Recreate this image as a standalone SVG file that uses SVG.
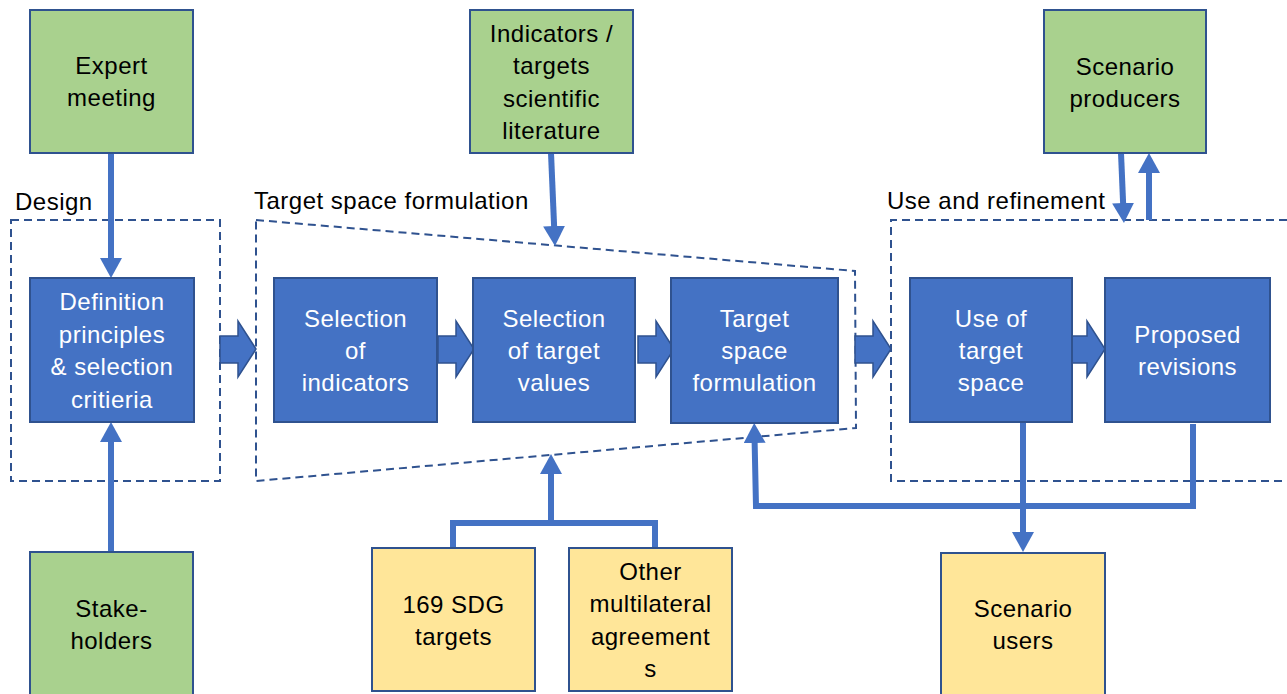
<svg xmlns="http://www.w3.org/2000/svg" width="1287" height="694" viewBox="0 0 1287 694">
<defs>
<style>
.t{font-family:"Liberation Sans",Arial,sans-serif;font-size:24px;letter-spacing:0.5px;text-anchor:middle;fill:#000}
.w{fill:#fff}
.lbl{font-family:"Liberation Sans",Arial,sans-serif;font-size:24px;letter-spacing:0.5px;fill:#000}
.g{fill:#A9D18E;stroke:#2F528F;stroke-width:2}
.b{fill:#4472C4;stroke:#2F528F;stroke-width:2}
.y{fill:#FFE699;stroke:#2F528F;stroke-width:2}
.d{fill:none;stroke:#2F528F;stroke-width:2;stroke-dasharray:8 5}
.c{fill:none;stroke:#4472C4;stroke-width:6;stroke-linejoin:miter}
.ca{fill:none;stroke:#4472C4;stroke-width:6;marker-end:url(#ah)}
.blk{fill:#4472C4;stroke:#2F528F;stroke-width:1.5}
</style>
<marker id="ah" viewBox="0 0 20 22" refX="2" refY="11" markerWidth="20" markerHeight="22" markerUnits="userSpaceOnUse" orient="auto">
<path d="M0,0 L20,11 L0,22 z" fill="#4472C4"/>
</marker>
</defs>
<rect width="1287" height="694" fill="#fff"/>

<g id="groups">
<rect class="d" x="11" y="220" width="209" height="261"/>
<polygon class="d" points="256,220 855,271 856,428 256,481"/>
<path class="d" d="M1287,220 L891,220 L891,481 L1287,481"/>
<text class="lbl" x="15" y="210">Design</text>
<text class="lbl" x="254" y="209">Target space formulation</text>
<text class="lbl" x="887" y="209">Use and refinement</text>
</g>

<g id="connectors">
<path class="ca" d="M111,153 L111,260"/>
<path class="ca" d="M111,552 L111,440"/>
<path class="ca" d="M551,153 L554.2,228"/>
<path class="ca" d="M1121,153 L1123.2,205"/>
<path class="ca" d="M1149,220 L1149,171"/>
<path class="ca" d="M1023,422 L1023,534"/>
<path class="ca" d="M1193,424 L1193,506 L756,506 L754.6,441"/>
<path class="c" d="M453,548 L453,523 L655,523 L655,548"/>
<path class="ca" d="M551,526 L551,472"/>
<polygon class="blk" points="220,336 238,336 238,321 256,349 238,377 238,363 220,363"/>
<polygon class="blk" points="438,336 456,336 456,321 474,349 456,377 456,363 438,363"/>
<polygon class="blk" points="638,336 656,336 656,321 674,349 656,377 656,363 638,363"/>
<polygon class="blk" points="855,336 873,336 873,321 891,349 873,377 873,363 855,363"/>
<polygon class="blk" points="1069,336 1087,336 1087,321 1105,349 1087,377 1087,363 1069,363"/>
</g>

<g id="expert-meeting">
<rect class="g" x="30" y="10" width="163" height="143"/>
<text class="t" x="111.5" y="74">Expert</text>
<text class="t" x="111.5" y="106">meeting</text>
</g>
<g id="indicators-literature">
<rect class="g" x="470" y="10" width="163" height="143"/>
<text class="t" x="551.5" y="42">Indicators /</text>
<text class="t" x="551.5" y="74">targets</text>
<text class="t" x="551.5" y="107">scientific</text>
<text class="t" x="551.5" y="139">literature</text>
</g>
<g id="scenario-producers">
<rect class="g" x="1044" y="10" width="162" height="143"/>
<text class="t" x="1125" y="75">Scenario</text>
<text class="t" x="1125" y="107">producers</text>
</g>

<g id="definition">
<rect class="b" x="30" y="278" width="164" height="144"/>
<text class="t w" x="112" y="310">Definition</text>
<text class="t w" x="112" y="343">principles</text>
<text class="t w" x="112" y="375">&amp; selection</text>
<text class="t w" x="112" y="408">critieria</text>
</g>
<g id="selection-indicators">
<rect class="b" x="274" y="278" width="163" height="144"/>
<text class="t w" x="355.5" y="327">Selection</text>
<text class="t w" x="355.5" y="359">of</text>
<text class="t w" x="355.5" y="391">indicators</text>
</g>
<g id="selection-target-values">
<rect class="b" x="473" y="278" width="162" height="144"/>
<text class="t w" x="554" y="327">Selection</text>
<text class="t w" x="554" y="359">of target</text>
<text class="t w" x="554" y="391">values</text>
</g>
<g id="target-space-formulation">
<rect class="b" x="671" y="278" width="167" height="145"/>
<text class="t w" x="754.5" y="327">Target</text>
<text class="t w" x="754.5" y="359">space</text>
<text class="t w" x="754.5" y="391">formulation</text>
</g>
<g id="use-target-space">
<rect class="b" x="910" y="278" width="162" height="144"/>
<text class="t w" x="991" y="327">Use of</text>
<text class="t w" x="991" y="359">target</text>
<text class="t w" x="991" y="391">space</text>
</g>
<g id="proposed-revisions">
<rect class="b" x="1105" y="278" width="165" height="144"/>
<text class="t w" x="1187.5" y="343">Proposed</text>
<text class="t w" x="1187.5" y="375">revisions</text>
</g>

<g id="stakeholders">
<rect class="g" x="30" y="552" width="163" height="150"/>
<text class="t" x="111.5" y="617">Stake-</text>
<text class="t" x="111.5" y="649">holders</text>
</g>
<g id="sdg-targets">
<rect class="y" x="372" y="548" width="163" height="143"/>
<text class="t" x="453.5" y="613">169 SDG</text>
<text class="t" x="453.5" y="645">targets</text>
</g>
<g id="other-agreements">
<rect class="y" x="569" y="548" width="163" height="143"/>
<text class="t" x="650.5" y="580">Other</text>
<text class="t" x="650.5" y="612">multilateral</text>
<text class="t" x="650.5" y="645">agreement</text>
<text class="t" x="650.5" y="677">s</text>
</g>
<g id="scenario-users">
<rect class="y" x="941" y="553" width="164" height="150"/>
<text class="t" x="1023" y="617">Scenario</text>
<text class="t" x="1023" y="649">users</text>
</g>
</svg>
